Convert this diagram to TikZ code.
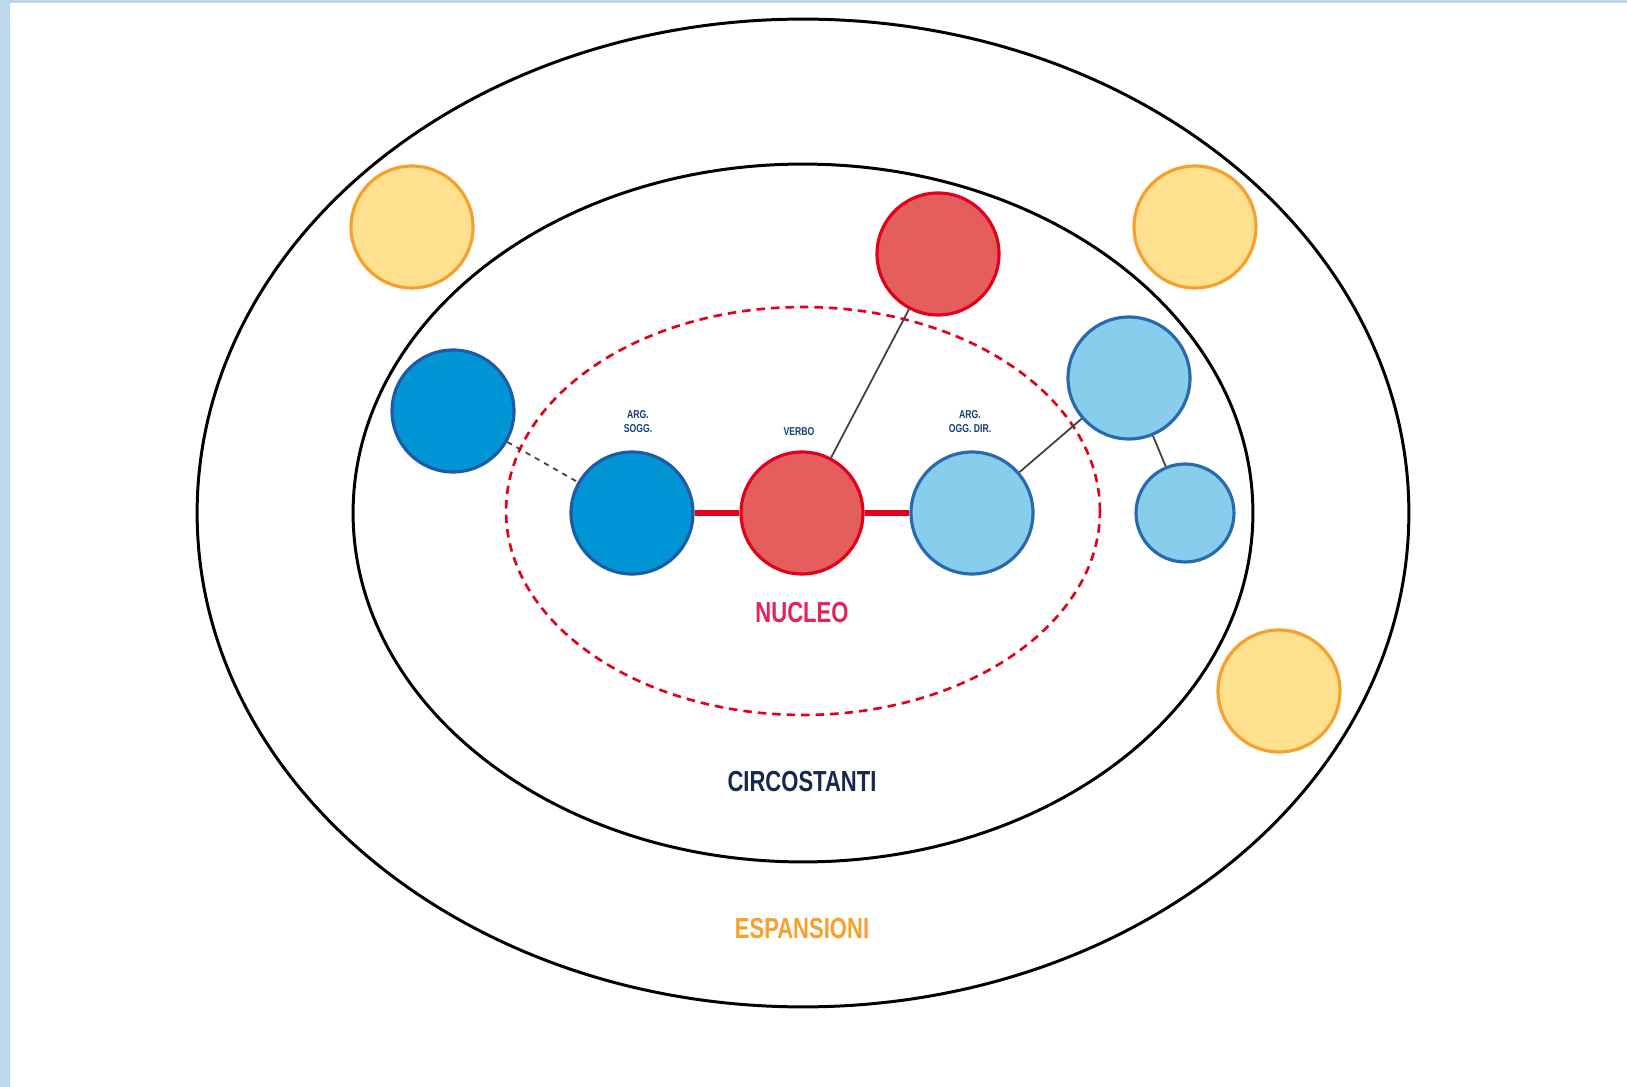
\documentclass[tikz,border=0pt]{standalone}
\usepackage{fontspec}
\setmainfont{Liberation Sans}
\newfontfamily\narrowfont[FakeStretch=0.76]{Liberation Sans}
\usepackage{tikz}

\definecolor{sidebar}{RGB}{189,215,238}
\definecolor{darkblue}{RGB}{0,150,214}
\definecolor{darkblueline}{RGB}{30,90,165}
\definecolor{lightblue}{RGB}{135,205,236}
\definecolor{lightblueline}{RGB}{40,105,175}
\definecolor{verbred}{RGB}{229,94,94}
\definecolor{verbredline}{RGB}{226,0,26}
\definecolor{expyellow}{RGB}{255,224,143}
\definecolor{exporange}{RGB}{247,160,44}
\definecolor{nucleotext}{RGB}{228,35,90}
\definecolor{circtext}{RGB}{20,40,80}

\tikzset{
  ball/.style={circle, line width=1.8pt, minimum size=2.44cm, inner sep=0pt},
  smallball/.style={ball, minimum size=1.96cm},
  subjball/.style={ball, fill=darkblue, draw=darkblueline},
  objball/.style={ball, fill=lightblue, draw=lightblueline},
  verbball/.style={ball, fill=verbred, draw=verbredline},
  expball/.style={ball, fill=expyellow, draw=exporange},
  tinylabel/.style={font=\narrowfont\bfseries\fontsize{6.5}{8}\selectfont, align=center, text=darkblueline!70!black},
  biglabel/.style={font=\narrowfont\bfseries\fontsize{16.5}{18}\selectfont}
}

\begin{document}
\begin{tikzpicture}[x=0.02cm, y=-0.02cm]
              \useasboundingbox (0,0) rectangle (1627,1087);
              \fill[sidebar] (0,0) rectangle (1627,1087);
              \fill[white] (10,3) rectangle (1627,1087);

              \draw[line width=1.7pt] (803,513) ellipse [x radius=12.12cm, y radius=9.88cm];
              \draw[line width=1.7pt] (803,513) ellipse [x radius=9.0cm, y radius=6.98cm];
              \draw[line width=1.5pt, verbredline, dash pattern=on 0.17cm off 0.12cm] (803,511) ellipse [x radius=5.94cm, y radius=4.08cm];

              \node[expball] (expL) at (412,227) {};
              \node[expball] (expRT) at (1195,227) {};
              \node[expball] (expRB) at (1279,691) {};

              \node[subjball] (circL) at (453,411) {};
              \node[verbball] (circT) at (938,254) {};
              \node[objball] (circR) at (1129,378) {};
              \node[objball, smallball] (circRS) at (1185,513) {};

              \node[subjball] (sogg) at (632,513) {};
              \node[verbball] (verbo) at (802,513) {};
              \node[objball] (ogg) at (972,513) {};

              \draw[verbredline, line width=3.4pt] (sogg) -- (verbo);
              \draw[verbredline, line width=3.4pt] (verbo) -- (ogg);
              \draw[line width=1pt, black!75] (verbo) -- (circT);
              \draw[line width=1pt, black!75, dashed] (circL) -- (sogg);
              \draw[line width=1pt, black!75] (ogg) -- (circR);
              \draw[line width=1pt, black!75] (circR) -- (circRS);

              \node[tinylabel] (lsogg) at (638,422) {ARG.\\SOGG.};
              \node[tinylabel] (lverbo) at (799,432) {VERBO};
              \node[tinylabel] (logg) at (970,422) {ARG.\\OGG. DIR.};

              \node[biglabel, text=nucleotext] (nucleo) at (802,613) {NUCLEO};
              \node[biglabel, text=circtext] (circ) at (802,782) {CIRCOSTANTI};
              \node[biglabel, text=exporange] (esp) at (802,929) {ESPANSIONI};
             \end{tikzpicture}
\end{document}
